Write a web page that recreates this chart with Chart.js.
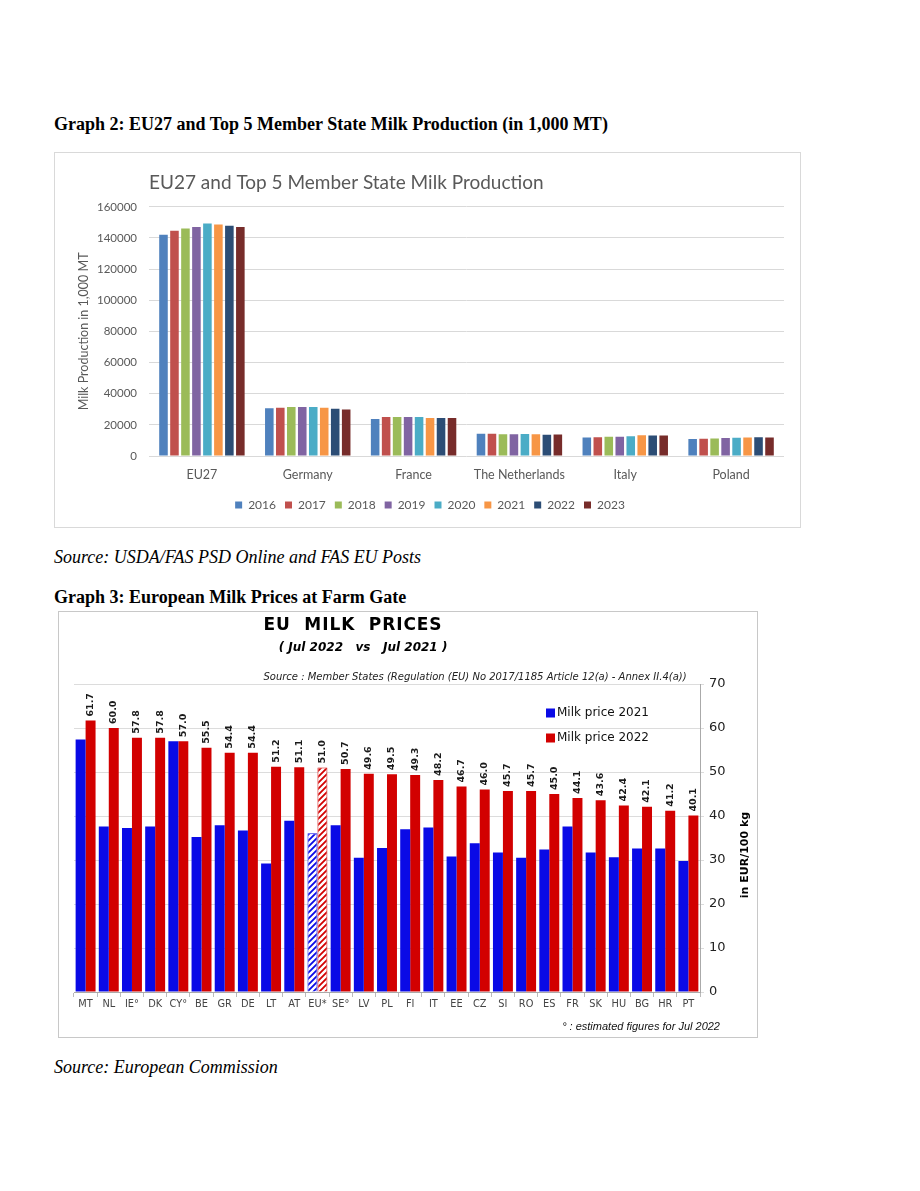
<!DOCTYPE html>
<html>
<head>
<meta charset="utf-8">
<script src="https://cdn.jsdelivr.net/npm/chart.js@4.4.1/dist/chart.umd.min.js"></script>
<style>
body { margin: 0; background: #fff; width: 920px; height: 1191px; position: relative; overflow: hidden; }
.t { position: absolute; white-space: nowrap; }
.serif { font-family: "Liberation Serif", "Times New Roman", serif; font-size: 18px; line-height: 20px; color: #000; }
.frame { position: absolute; box-sizing: border-box; }
canvas { position: absolute; }
.vd { font-family: "DejaVu Sans", Verdana, sans-serif; color: #000; text-align: center; }
</style>
</head>
<body>

<div class="t serif" style="left:54px;top:114px;font-weight:bold;">Graph 2: EU27 and Top 5 Member State Milk Production (in 1,000 MT)</div>
<div class="frame" style="left:54px;top:152px;width:747px;height:376px;border:1px solid #d9d9d9;"></div>
<canvas id="prodChart" width="746" height="375" style="left:54px;top:152px;"></canvas>
<div class="t serif" style="left:54px;top:547px;font-style:italic;">Source: USDA/FAS PSD Online and FAS EU Posts</div>

<div class="t serif" style="left:54px;top:587px;font-weight:bold;">Graph 3: European Milk Prices at Farm Gate</div>
<div class="frame" style="left:58px;top:611px;width:700px;height:427px;border:1px solid #c8c8c8;"></div>
<canvas id="priceChart" width="699" height="426" style="left:58px;top:611px;"></canvas>
<div class="t vd" style="left:153px;width:400px;top:614px;font-size:17px;font-weight:bold;letter-spacing:0.9px;">EU&nbsp;&nbsp;MILK&nbsp;&nbsp;PRICES</div>
<div class="t vd" style="left:163px;width:400px;top:640px;font-size:12px;font-weight:bold;font-style:italic;">(&nbsp;Jul 2022&nbsp;&nbsp;&nbsp;vs&nbsp;&nbsp;&nbsp;Jul 2021&nbsp;)</div>
<div class="t vd" style="left:175px;width:600px;top:671px;font-size:10px;font-style:italic;color:#222;">Source : Member States (Regulation (EU) No 2017/1185 Article 12(a) - Annex II.4(a))</div>
<div class="t" style="left:420px;width:300px;top:1020px;text-align:right;font-family:'Liberation Sans',Arial,sans-serif;font-size:11px;font-style:italic;color:#111;">° : estimated figures for Jul 2022</div>

<div class="t serif" style="left:54px;top:1057px;font-style:italic;">Source: European Commission</div>

<script>
Chart.defaults.animation = false;

// ---- Graph 2 data (1,000 MT) ----
const prodCountries = ['EU27', 'Germany', 'France', 'The Netherlands', 'Italy', 'Poland'];
const prodYears = ['2016', '2017', '2018', '2019', '2020', '2021', '2022', '2023'];
const prod2016 = [142000, 30700, 23700, 14300, 11900, 10900];
const prod2017 = [144700, 30900, 25000, 14300, 12100, 11100];
const prod2018 = [146000, 31500, 25000, 14000, 12300, 11300];
const prod2019 = [147000, 31500, 25000, 14000, 12400, 11500];
const prod2020 = [149300, 31500, 25000, 14200, 12700, 11700];
const prod2021 = [148700, 30900, 24400, 13900, 13300, 11800];
const prod2022 = [147800, 30300, 24400, 13700, 13100, 12000];
const prod2023 = [147000, 29800, 24400, 13800, 13100, 11900];
const prodColors = ['#4f81bd', '#c0504d', '#9bbb59', '#8064a2', '#4bacc6', '#f79646', '#2c4d75', '#772c2a'];

// ---- Graph 3 data (EUR/100 kg) ----
const priceCountries = ['MT', 'NL', 'IE°', 'DK', 'CY°', 'BE', 'GR', 'DE', 'LT', 'AT', 'EU*', 'SE°', 'LV', 'PL', 'FI',
                        'IT', 'EE', 'CZ', 'SI', 'RO', 'ES', 'FR', 'SK', 'HU', 'BG', 'HR', 'PT'];
const price2021 = [57.4, 37.6, 37.3, 37.6, 57.0, 35.2, 37.9, 36.7, 29.2, 38.9, 36.1, 37.9, 30.5, 32.7, 37.0,
                   37.4, 30.8, 33.8, 31.7, 30.5, 32.4, 37.6, 31.7, 30.6, 32.6, 32.6, 29.8];
const price2022 = [61.7, 60.0, 57.8, 57.8, 57.0, 55.5, 54.4, 54.4, 51.2, 51.1, 51.0, 50.7, 49.6, 49.5, 49.3,
                   48.2, 46.7, 46.0, 45.7, 45.7, 45.0, 44.1, 43.6, 42.4, 42.1, 41.2, 40.1];
const priceSeries = ['Milk price 2021', 'Milk price 2022'];
const priceColors = ['#0a0ae6', '#d20000'];
const hatchedCountry = 'EU*';

// ---------------- Graph 2 ----------------
const prodData = [prod2016, prod2017, prod2018, prod2019, prod2020, prod2021, prod2022, prod2023];
const calib = 'Lato, "Open Sans", sans-serif';

// the right layout padding pulls the legend left; push it back to the frame centre
const legendShift = {
    id: 'legendShift',
    afterLayout(chart) {
        chart.legend.left += 11;
        chart.legend.right += 11;
    }
};

new Chart(document.getElementById('prodChart'), {
    type: 'bar',
    data: {
        labels: prodCountries,
        datasets: prodYears.map((y, i) => ({
            label: y,
            data: prodData[i],
            backgroundColor: prodColors[i],
            categoryPercentage: 0.83,
            barPercentage: 0.78
        }))
    },
    options: {
        responsive: false,
        layout: { padding: { left: 0, right: 16, top: 0, bottom: 6 } },
        plugins: {
            title: {
                display: true,
                text: 'EU27 and Top 5 Member State Milk Production',
                align: 'start',
                fullSize: false,
                color: '#595959',
                font: { family: calib, size: 19, weight: 'normal' },
                padding: { top: 19, bottom: 13 }
            },
            legend: {
                position: 'bottom',
                labels: {
                    color: '#595959',
                    font: { family: calib, size: 12 },
                    boxWidth: 7,
                    boxHeight: 7,
                    padding: 9
                }
            },
            tooltip: { enabled: false }
        },
        scales: {
            x: {
                grid: { display: false },
                border: { display: false },
                ticks: { color: '#595959', font: { family: calib, size: 12.5 }, padding: 3 },
                afterFit(scale) { scale.height = 34; }
            },
            y: {
                min: 0,
                max: 160000,
                ticks: {
                    stepSize: 20000,
                    color: '#595959',
                    font: { family: calib, size: 11.5 },
                    padding: 12,
                    callback: v => String(v)
                },
                grid: { color: '#d9d9d9', drawTicks: false },
                border: { display: false },
                title: {
                    display: true,
                    text: 'Milk Production in 1,000 MT',
                    color: '#595959',
                    font: { family: calib, size: 12.5 },
                    padding: { top: 22, bottom: 0 }
                },
                afterFit(scale) { scale.width = 95; }
            }
        }
    },
    plugins: [legendShift]
});

// ---------------- Graph 3 ----------------
function hatch(color) {
    const c = document.createElement('canvas');
    c.width = 6; c.height = 6;
    const g = c.getContext('2d');
    g.fillStyle = '#fff';
    g.fillRect(0, 0, 6, 6);
    g.strokeStyle = color;
    g.lineWidth = 1.8;
    g.beginPath();
    g.moveTo(-1, 1); g.lineTo(1, -1);
    g.moveTo(0, 6); g.lineTo(6, 0);
    g.moveTo(5, 7); g.lineTo(7, 5);
    g.stroke();
    return g.createPattern(c, 'repeat');
}

const vd = '"DejaVu Sans", Verdana, sans-serif';

const priceExtras = {
    id: 'priceExtras',
    afterDatasetsDraw(chart) {
        const ctx = chart.ctx;
        const area = chart.chartArea;
        // value labels above the 2022 bars
        const meta = chart.getDatasetMeta(1);
        ctx.save();
        ctx.fillStyle = '#1a1a1a';
        ctx.font = 'bold 9.5px ' + vd;
        ctx.textAlign = 'left';
        ctx.textBaseline = 'middle';
        meta.data.forEach((bar, i) => {
            ctx.save();
            ctx.translate(bar.x, bar.y - 4);
            ctx.rotate(-Math.PI / 2);
            ctx.fillText(price2022[i].toFixed(1), 0, 0);
            ctx.restore();
        });
        ctx.restore();

        // legend inside the plot
        ctx.save();
        ctx.font = '12px ' + vd;
        ctx.textBaseline = 'middle';
        priceSeries.forEach((s, i) => {
            const lx = area.left + 472;
            const ly = area.top + 29 + i * 25;
            ctx.fillStyle = priceColors[i];
            ctx.fillRect(lx, ly - 4.5, 9, 9);
            ctx.fillStyle = '#111';
            ctx.fillText(s, lx + 11, ly);
        });
        ctx.restore();

        // right axis title, reading bottom to top
        const ys = chart.scales.y;
        ctx.save();
        ctx.font = 'bold 11px ' + vd;
        ctx.fillStyle = '#000';
        ctx.textAlign = 'center';
        ctx.textBaseline = 'middle';
        ctx.translate(ys.right - 12, area.top + 171);
        ctx.rotate(-Math.PI / 2);
        ctx.fillText('in EUR/100 kg', 0, 0);
        ctx.restore();
    }
};

const hatchIdx = priceCountries.indexOf(hatchedCountry);

new Chart(document.getElementById('priceChart'), {
    type: 'bar',
    data: {
        labels: priceCountries,
        datasets: [price2021, price2022].map((d, k) => ({
            label: priceSeries[k],
            data: d,
            backgroundColor: ctx => ctx.dataIndex === hatchIdx ? hatch(priceColors[k]) : priceColors[k],
            borderColor: priceColors[k],
            borderWidth: ctx => ctx.dataIndex === hatchIdx ? 1 : 0,
            categoryPercentage: 0.86,
            barPercentage: 1.0
        }))
    },
    options: {
        responsive: false,
        layout: { padding: { left: 16, right: 0, top: 73, bottom: 0 } },
        plugins: {
            legend: { display: false },
            tooltip: { enabled: false }
        },
        scales: {
            x: {
                grid: { drawOnChartArea: false, tickLength: 5, color: '#bbb' },
                border: { color: '#aaa' },
                ticks: { color: '#444', font: { family: vd, size: 9.8 }, padding: 2, autoSkip: false, maxRotation: 0 },
                afterFit(scale) { scale.height = 45; }
            },
            y: {
                position: 'right',
                min: 0,
                max: 70,
                ticks: { stepSize: 10, color: '#222', font: { family: vd, size: 13 }, padding: 5 },
                grid: { color: '#dcdcdc', tickLength: 4 },
                border: { color: '#aaa' },
                afterFit(scale) { scale.width = 57; }
            }
        }
    },
    plugins: [priceExtras]
});
</script>
</body>
</html>
